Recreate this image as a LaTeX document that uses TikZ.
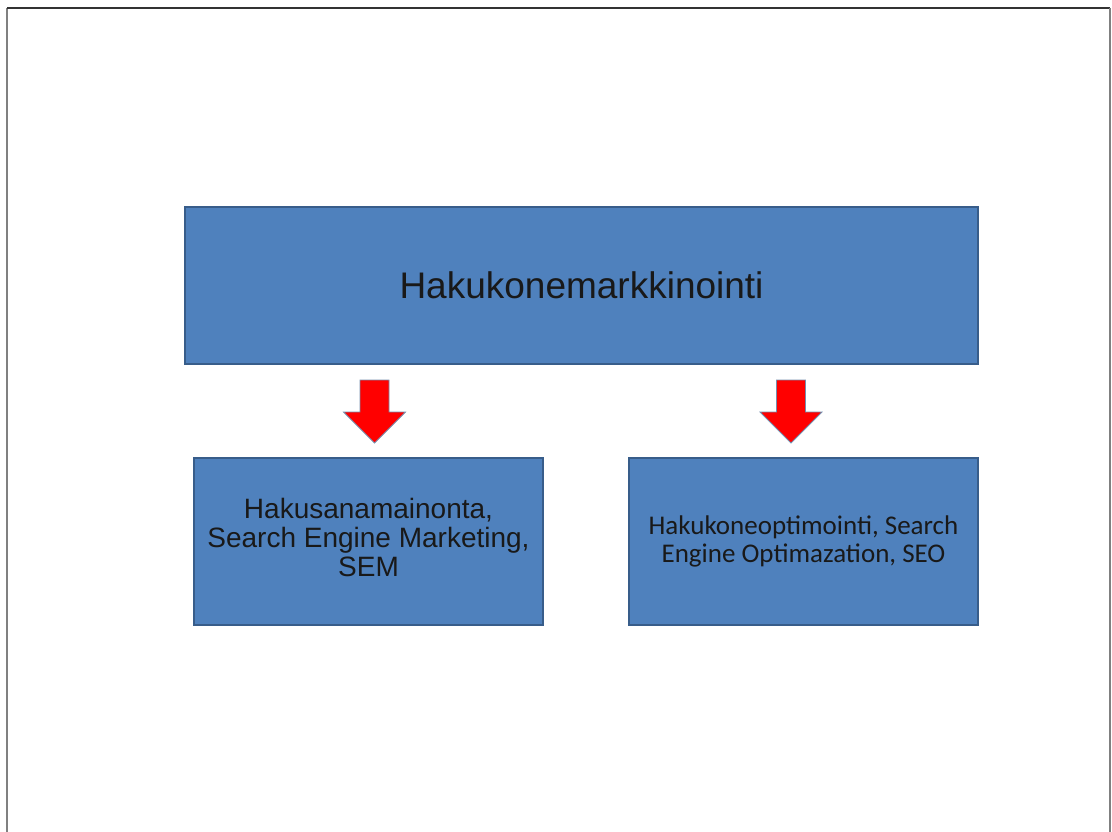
\documentclass[tikz,border=0pt]{standalone}
\usepackage{fontspec}
\setmainfont{Liberation Sans}
\newfontfamily\calibrilike{Carlito}
\definecolor{boxblue}{HTML}{4F81BD}
\definecolor{boxedge}{HTML}{385D8A}
\definecolor{arrowred}{HTML}{FF0000}
\definecolor{framegray}{HTML}{808080}
\tikzset{
  bluebox/.style={draw=boxedge, line width=1.2pt, fill=boxblue, align=center,
    inner sep=0pt, text=black!90},
  blockarrow/.pic={
    \fill[arrowred, draw=boxedge!70, line width=0.8pt, line join=miter]
      (-14.5,0) -- (14.5,0) -- (14.5,32) -- (31,32) -- (0,63) -- (-31,32) -- (-14.5,32) -- cycle;
  }
}
\begin{document}
\begin{tikzpicture}[x=1pt,y=-1pt]
  \useasboundingbox (0,0) rectangle (1112,832);
  % page frame
  \draw[framegray, line width=1.2pt] (7,832) -- (7,8);
  \draw[black!80, line width=1.2pt] (7,8) -- (1110,8);
  \draw[framegray, line width=1.2pt] (1110,8) -- (1110,832);

  % boxes
  \node[bluebox, minimum width=793pt, minimum height=157pt,
        font=\fontsize{37}{42}\selectfont] (top) at (581.5,285.5) {Hakukonemarkkinointi};
  \node[bluebox, minimum width=349pt, minimum height=167pt] (sem) at (368.5,541.5) {};
  \node[align=center, inner sep=0pt, text=black!90,
        font=\fontsize{28}{29}\selectfont] (semtext) at (368.5,537)
        {Hakusanamainonta,\\Search Engine Marketing,\\SEM};
  \node[bluebox, minimum width=349pt, minimum height=167pt,
        font=\calibrilike\fontsize{27}{28}\selectfont] (seo) at (803.5,541.5)
        {Hakukoneoptimointi, Search\\Engine Optimazation, SEO};

  % red block arrows between the boxes
  \coordinate (a1) at (374.5,380);
  \coordinate (a2) at (791,380);
  \pic at (a1) {blockarrow};
  \pic at (a2) {blockarrow};
\end{tikzpicture}
\end{document}
